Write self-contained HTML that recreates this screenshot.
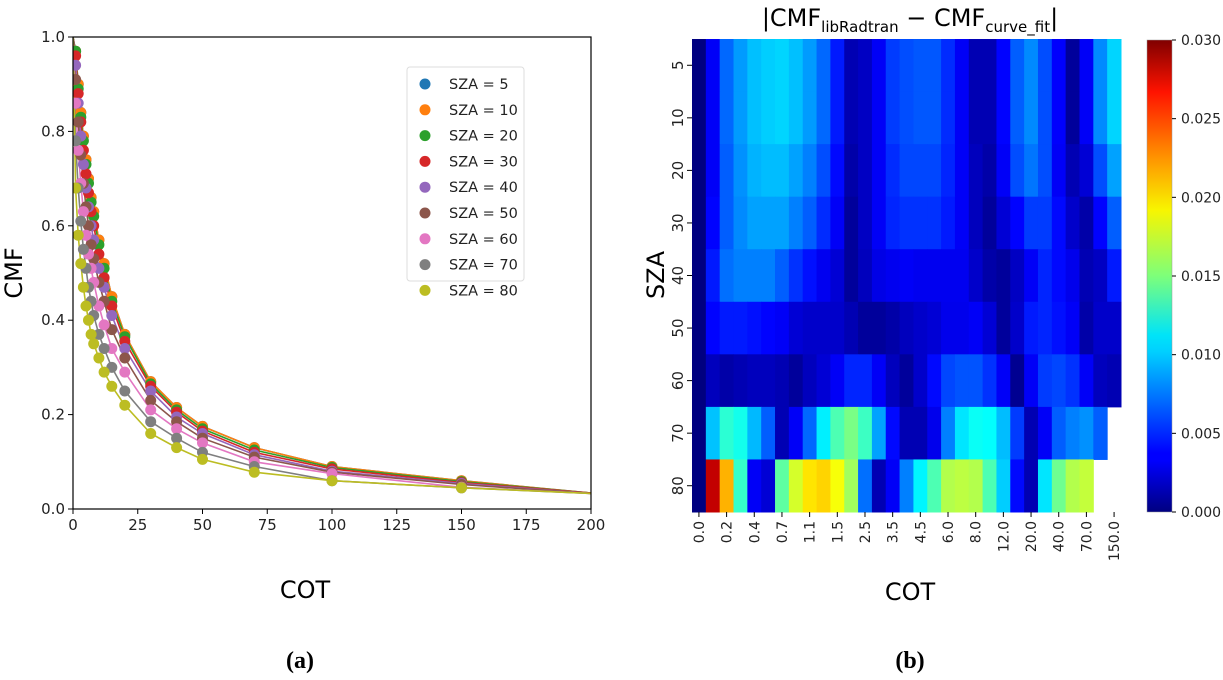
<!DOCTYPE html>
<html><head><meta charset="utf-8"><style>
html,body{margin:0;padding:0;background:#fff;}
svg{display:block;}
text{font-family:"DejaVu Sans","Liberation Sans",sans-serif;}
</style></head><body>
<svg id="root" width="1223" height="680" viewBox="0 0 1223 680" xmlns="http://www.w3.org/2000/svg">
<defs>
<linearGradient id="jet" x1="0" y1="1" x2="0" y2="0">
<stop offset="0" stop-color="#000080"/><stop offset="0.11" stop-color="#0000ff"/>
<stop offset="0.125" stop-color="#0000ff"/><stop offset="0.34" stop-color="#00d0ff"/>
<stop offset="0.375" stop-color="#00e4f8"/><stop offset="0.5" stop-color="#7dff7a"/>
<stop offset="0.64" stop-color="#f8f500"/><stop offset="0.75" stop-color="#ff9400"/>
<stop offset="0.89" stop-color="#ff1300"/><stop offset="1" stop-color="#800000"/>
</linearGradient>
<clipPath id="clipA"><rect x="73" y="37" width="518" height="472"/></clipPath>
</defs>
<g id="left"></g>
<g id="right"></g>
<text x="300" y="668" font-family="Liberation Serif" font-weight="bold" font-size="24" text-anchor="middle" style="font-family:'Liberation Serif',serif">(a)</text>
<text x="910" y="668" font-weight="bold" font-size="24" text-anchor="middle" style="font-family:'Liberation Serif',serif">(b)</text>
</svg>
<script>
// ---- Panel (a) data ----
const cotPoints = [1,2,3,4,5,6,7,8,10,12,15,20,30,40,50,70,100,150];
const szaLabels = [5,10,20,30,40,50,60,70,80];
const cmf5  = [0.97,0.90,0.84,0.79,0.74,0.70,0.66,0.63,0.57,0.52,0.45,0.37,0.27,0.215,0.175,0.13,0.09,0.06];
const cmf10 = [0.97,0.90,0.84,0.79,0.74,0.70,0.66,0.63,0.57,0.52,0.45,0.37,0.27,0.215,0.175,0.13,0.09,0.06];
const cmf20 = [0.97,0.89,0.83,0.78,0.73,0.69,0.65,0.62,0.56,0.51,0.44,0.365,0.265,0.21,0.17,0.125,0.088,0.058];
const cmf30 = [0.96,0.88,0.82,0.76,0.71,0.67,0.63,0.60,0.54,0.49,0.43,0.355,0.26,0.205,0.165,0.12,0.085,0.056];
const cmf40 = [0.94,0.86,0.79,0.73,0.68,0.64,0.60,0.57,0.51,0.47,0.41,0.34,0.25,0.195,0.16,0.115,0.08,0.054];
const cmf50 = [0.91,0.82,0.75,0.69,0.64,0.60,0.56,0.53,0.48,0.44,0.38,0.32,0.23,0.185,0.15,0.11,0.078,0.052];
const cmf60 = [0.86,0.76,0.69,0.63,0.58,0.54,0.51,0.48,0.43,0.39,0.34,0.29,0.21,0.17,0.14,0.10,0.075,0.046];
const cmf70 = [0.78,0.68,0.61,0.55,0.51,0.47,0.44,0.41,0.37,0.34,0.30,0.25,0.185,0.15,0.12,0.09,0.06,0.045];
const cmf80 = [0.68,0.58,0.52,0.47,0.43,0.40,0.37,0.35,0.32,0.29,0.26,0.22,0.16,0.13,0.105,0.078,0.06,0.045];
const fitAt200 = [0.034,0.034,0.034,0.034,0.033,0.033,0.033,0.033,0.033];
const xTicksA = [0,25,50,75,100,125,150,175,200];
const yTicksA = [0.0,0.2,0.4,0.6,0.8,1.0];
const colorsA = ['#1f77b4','#ff7f0e','#2ca02c','#d62728','#9467bd','#8c564b','#e377c2','#7f7f7f','#bcbd22'];

// ---- Panel (b) data ----
const cotLabels = ['0.0','0.2','0.4','0.7','1.1','1.5','2.5','3.5','4.5','6.0','8.0','12.0','20.0','40.0','70.0','150.0'];
const szaRows = ['5','10','20','30','40','50','60','70','80'];
const r5  = [0,.0035,.0068,.0083,.0094,.0098,.0100,.0094,.0083,.0068,.0045,.0015,.0020,.0035,.0055,.0060,.0063,.0063,.0050,.0035,.0015,.0015,.0038,.0065,.0078,.0060,.0037,.0008,.0035,.0078,.0100];
const r10 = [0,.0035,.0068,.0083,.0094,.0098,.0100,.0094,.0083,.0068,.0045,.0015,.0020,.0035,.0055,.0060,.0063,.0063,.0050,.0035,.0015,.0015,.0038,.0065,.0078,.0060,.0037,.0008,.0035,.0078,.0100];
const r20 = [0,.0035,.0065,.0080,.0090,.0093,.0093,.0085,.0075,.0060,.0040,.0012,.0020,.0035,.0050,.0058,.0058,.0058,.0048,.0035,.0018,.0012,.0035,.0060,.0072,.0060,.0035,.0015,.0025,.0060,.0085];
const r30 = [0,.0038,.0065,.0078,.0085,.0085,.0085,.0075,.0065,.0050,.0035,.0008,.0020,.0035,.0048,.0052,.0052,.0052,.0045,.0035,.0018,.0008,.0025,.0038,.0055,.0055,.0040,.0022,.0012,.0038,.0065];
const r40 = [0,.0045,.0070,.0075,.0075,.0075,.0065,.0052,.0042,.0033,.0025,.0008,.0018,.0030,.0033,.0035,.0033,.0033,.0033,.0033,.0022,.0012,.0008,.0020,.0035,.0048,.0040,.0032,.0015,.0020,.0045];
const r50 = [0,.0038,.0045,.0045,.0042,.0038,.0035,.0025,.0022,.0022,.0022,.0015,.0008,.0008,.0012,.0018,.0022,.0025,.0032,.0032,.0035,.0025,.0008,.0022,.0045,.0048,.0042,.0035,.0012,.0022,.0022];
const r60 = [0,.0018,.0012,.0015,.0018,.0018,.0015,.0008,.0018,.0025,.0035,.0048,.0048,.0035,.0018,.0008,.0022,.0040,.0058,.0062,.0062,.0052,.0035,.0005,.0035,.0055,.0058,.0052,.0035,.0018,.0015];
const r70 = [0,.0095,.0125,.0118,.0092,.0065,.0015,.0035,.0068,.0108,.0135,.0148,.0130,.0085,.0040,.0015,.0015,.0032,.0075,.0105,.0115,.0113,.0093,.0055,.0015,.0035,.0065,.0075,.0080,.0065,null];
const r80 = [0,.0280,.0210,.0128,.0035,.0025,.0140,.0175,.0195,.0200,.0185,.0160,.0070,.0015,.0035,.0075,.0110,.0135,.0165,.0168,.0165,.0135,.0098,.0040,.0015,.0105,.0145,.0165,.0170,null,null];
const cbTicks = ['0.000','0.005','0.010','0.015','0.020','0.025','0.030'];

const NS='http://www.w3.org/2000/svg';
function mk(tag, attrs, parent, txt){const e=document.createElementNS(NS,tag);for(const k in attrs)e.setAttribute(k,attrs[k]);if(txt!==undefined)e.textContent=txt;parent.appendChild(e);return e;}

// ---- Panel (a) ----
const L=document.getElementById('left');
const ax0=73, ax1=591, ay0=509, ay1=37;
const xA=v=>ax0+(v/200)*(ax1-ax0);
const yA=v=>ay0-(v/1)*(ay0-ay1);
const seriesA=[cmf5,cmf10,cmf20,cmf30,cmf40,cmf50,cmf60,cmf70,cmf80];
const plotG=mk('g',{'clip-path':'url(#clipA)'},L);
seriesA.forEach((s,i)=>{
  let d='M'+xA(0)+','+yA(1);
  cotPoints.forEach((c,j)=>{d+=' L'+xA(c).toFixed(1)+','+yA(s[j]).toFixed(1);});
  d+=' L'+xA(200)+','+yA(fitAt200[i]).toFixed(1);
  const p=mk('path',{d:d,fill:'none',stroke:colorsA[i],'stroke-width':1.6},plotG);
  
  
});
seriesA.forEach((s,i)=>{
  cotPoints.forEach((c,j)=>{
    const pt=mk('circle',{cx:xA(c).toFixed(1),cy:yA(s[j]).toFixed(1),r:5.5,fill:colorsA[i]},plotG);
    
    
  });
});
const frame=mk('rect',{x:ax0,y:ay1,width:ax1-ax0,height:ay0-ay1,fill:'none',stroke:'#000','stroke-width':1.2},L);


xTicksA.forEach(t=>{
  mk('line',{x1:xA(t),x2:xA(t),y1:ay0,y2:ay0+5,stroke:'#000'},L);
  const tx=mk('text',{x:xA(t),y:ay0+21,'font-size':15,'text-anchor':'middle',fill:'#222'},L,String(t));
  
  
});
yTicksA.forEach(t=>{
  mk('line',{x1:ax0-5,x2:ax0,y1:yA(t),y2:yA(t),stroke:'#000'},L);
  const tx=mk('text',{x:ax0-8,y:yA(t)+5,'font-size':15,'text-anchor':'end',fill:'#222'},L,t.toFixed(1));
  
  
});
const yt=mk('text',{x:22,y:273,'font-size':24,'text-anchor':'middle',transform:'rotate(-90 22 273)'},L,'CMF');


const xt=mk('text',{x:305,y:598,'font-size':24,'text-anchor':'middle'},L,'COT');


const lg=mk('g',{},L);


mk('rect',{x:407,y:67,width:117,height:214,rx:3,fill:'#fff',stroke:'#ddd'},lg);
szaLabels.forEach((s,i)=>{
  const y=84+i*25.8;
  const e=mk('g',{},lg);
  
  
  mk('circle',{cx:425,cy:y,r:5.5,fill:colorsA[i]},e);
  mk('text',{x:449,y:y+5,'font-size':14.5,fill:'#222'},e,'SZA = '+s);
});

// ---- Panel (b) ----
const R=document.getElementById('right');
const hx0=692, hx1=1121, hy0=39, hy1=512;
const rowsB=[r5,r10,r20,r30,r40,r50,r60,r70,r80];
const nC=r5.length, nR=rowsB.length;
const cw=(hx1-hx0)/nC, rh=(hy1-hy0)/nR;
function jet(v){
  const f=Math.max(0,Math.min(1,v/0.03));
  const c=x=>Math.max(0,Math.min(1,x));
  const r=c(Math.min(4*f-1.5,-4*f+4.5)), g=c(Math.min(4*f-0.5,-4*f+3.5)), b=c(Math.min(4*f+0.5,-4*f+2.5));
  return 'rgb('+Math.round(r*255)+','+Math.round(g*255)+','+Math.round(b*255)+')';
}
rowsB.forEach((row,i)=>{
  row.forEach((v,j)=>{
    if(v===null)return;
    const cell=mk('rect',{x:(hx0+j*cw).toFixed(2),y:(hy0+i*rh).toFixed(2),width:(cw+0.5).toFixed(2),height:(rh+0.5).toFixed(2),fill:jet(v)},R);
    
    
  });
});
szaRows.forEach((s,i)=>{
  const y=hy0+(i+0.5)*rh;
  mk('line',{x1:hx0-5,x2:hx0,y1:y,y2:y,stroke:'#000'},R);
  const tx=mk('text',{x:683,y:y,'font-size':15,'text-anchor':'middle',fill:'#222',transform:'rotate(-90 683 '+y+')'},R,s);
  
  
});
cotLabels.forEach((s,k)=>{
  const x=hx0+(2*k+0.5)*cw;
  mk('line',{x1:x,x2:x,y1:hy1,y2:hy1+5,stroke:'#000'},R);
  const tx=mk('text',{x:x+5,y:hy1+9,'font-size':14,'text-anchor':'end',fill:'#222',transform:'rotate(-90 '+(x+5)+' '+(hy1+9)+')'},R,s);
  
  
});
const st=mk('text',{x:664,y:275,'font-size':24,'text-anchor':'middle',transform:'rotate(-90 664 275)'},R,'SZA');


const ct=mk('text',{x:910,y:600,'font-size':24,'text-anchor':'middle'},R,'COT');


const title=mk('text',{x:910,y:26,'font-size':24,'text-anchor':'middle'},R);


title.innerHTML='|CMF<tspan font-size="15" dy="6">libRadtran</tspan><tspan dy="-6"> − CMF</tspan><tspan font-size="15" dy="6">curve_fit</tspan><tspan dy="-6">|</tspan>';
const cbx=1147, cbw=25;
const cb=mk('rect',{x:cbx,y:hy0+1,width:cbw,height:hy1-hy0-1,fill:'url(#jet)',stroke:'#999','stroke-width':0.5},R);


cbTicks.forEach((s,k)=>{
  const y=hy1-(parseFloat(s)/0.03)*(hy1-hy0-1);
  mk('line',{x1:cbx+cbw,x2:cbx+cbw+4,y1:y,y2:y,stroke:'#000'},R);
  const tx=mk('text',{x:1181,y:y+5,'font-size':14,fill:'#222'},R,s);
  
  
});
</script>
</body></html>
